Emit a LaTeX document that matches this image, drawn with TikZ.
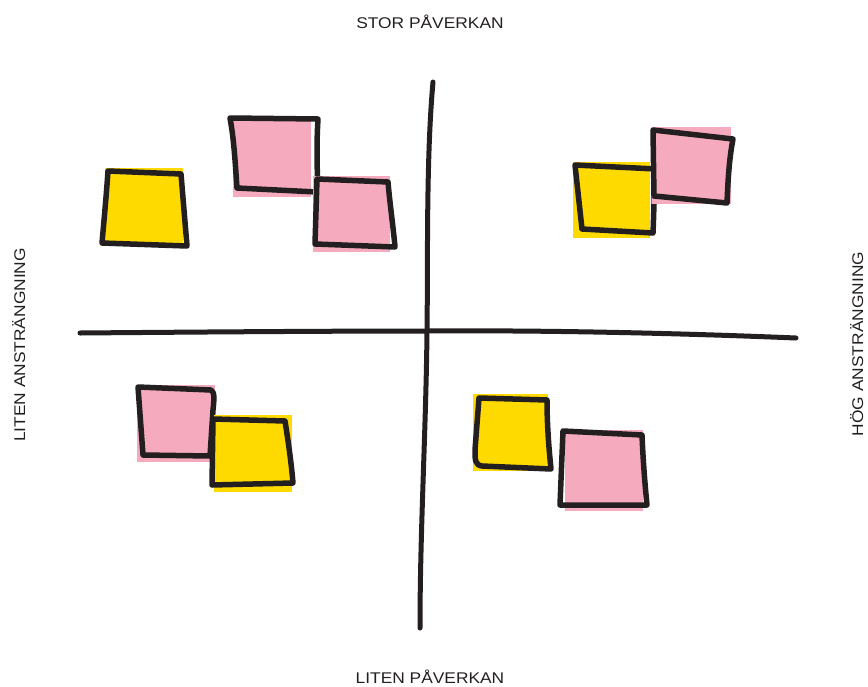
\documentclass[tikz,border=0pt]{standalone}
\usepackage{fontspec}
\usepackage{graphicx}
\setmainfont{Liberation Sans}
\definecolor{noteyellow}{HTML}{FFDA00}
\definecolor{notepink}{HTML}{F5ABBD}
\definecolor{ink}{HTML}{231F20}
\newcommand{\widetxt}[1]{\scalebox{1.12}[1]{#1}}
\begin{document}
\begin{tikzpicture}[x=1pt,y=-1pt,
  outline/.style={draw=ink,line width=5.5pt,line join=round,line cap=round},
  axis/.style={draw=ink,line width=5pt,line cap=round},
  lbl/.style={font=\fontsize{15.5}{18}\selectfont,text=ink,inner sep=0pt,anchor=base}]
\useasboundingbox (0,0) rectangle (868,686);
% axes
\coordinate (vt) at (433,82);
\coordinate (vb) at (420,628);
\coordinate (hl) at (80,333);
\coordinate (hr) at (796,338);
\draw[axis] (vt) .. controls (426,160) and (428,260) .. (427,331) .. controls (426,430) and (420,530) .. (vb);
\draw[axis] (hl) .. controls (200,332) and (330,331) .. (427,331) .. controls (560,330) and (700,334) .. (hr);
% top-left yellow
\fill[noteyellow] (105,168) rectangle (183,244);
\draw[outline] (108,171) -- (181,174) -- (187,246) -- (102,243) .. controls (104,220) and (106,200) .. cycle;
% top-left pink 1
\fill[notepink] (233,118) rectangle (311,197);
\draw[outline] (230,118) -- (318,119) .. controls (316,150) and (318,170) .. (317,192) -- (237,188) .. controls (235,160) and (234,140) .. cycle;
% top-left pink 2
\fill[notepink] (313,176) rectangle (390,252);
\draw[outline] (317,179) -- (388,182) .. controls (390,205) and (393,225) .. (395,247) -- (315,244) -- cycle;
% top-right yellow
\fill[noteyellow] (573,162) rectangle (650,238);
\draw[outline] (575,165) -- (656,169) .. controls (654,190) and (654,210) .. (653,233) -- (582,229) -- cycle;
% top-right pink
\fill[notepink] (652,127) rectangle (731,204);
\draw[outline] (653,130) -- (733,139) .. controls (729,160) and (728,180) .. (727,203) -- (654,196) -- cycle;
% bottom-left pink
\fill[notepink] (137,385) rectangle (215,462);
\draw[outline] (138,387) -- (211,390) .. controls (215,392) and (214,400) .. (213,410) -- (210,456) -- (143,455) -- cycle;
% bottom-left yellow
\fill[noteyellow] (214,415) rectangle (292,492);
\draw[outline] (213,419) -- (285,421) .. controls (288,440) and (291,460) .. (293,483) -- (212,485) -- cycle;
% bottom-right yellow
\fill[noteyellow] (473,394) rectangle (548,471);
\draw[outline] (479,398) -- (547,400) .. controls (547,425) and (549,450) .. (551,469) -- (482,466) .. controls (475,465) and (475,460) .. (475,450) -- cycle;
% bottom-right pink
\fill[notepink] (565,430) rectangle (643,511);
\draw[outline] (563,431) -- (642,435) .. controls (643,460) and (645,485) .. (647,505) -- (560,505) .. controls (561,480) and (562,455) .. cycle;
% labels
\node[lbl] (top) at (430,28.5) {\widetxt{STOR PÅVERKAN}};
\node[lbl] (bottom) at (430,683) {\widetxt{LITEN PÅVERKAN}};
\node[lbl,rotate=90] (left) at (25,345) {\widetxt{LITEN ANSTRÄNGNING}};
\node[lbl,rotate=90] (right) at (863,344) {\widetxt{HÖG ANSTRÄNGNING}};
\end{tikzpicture}
\end{document}
